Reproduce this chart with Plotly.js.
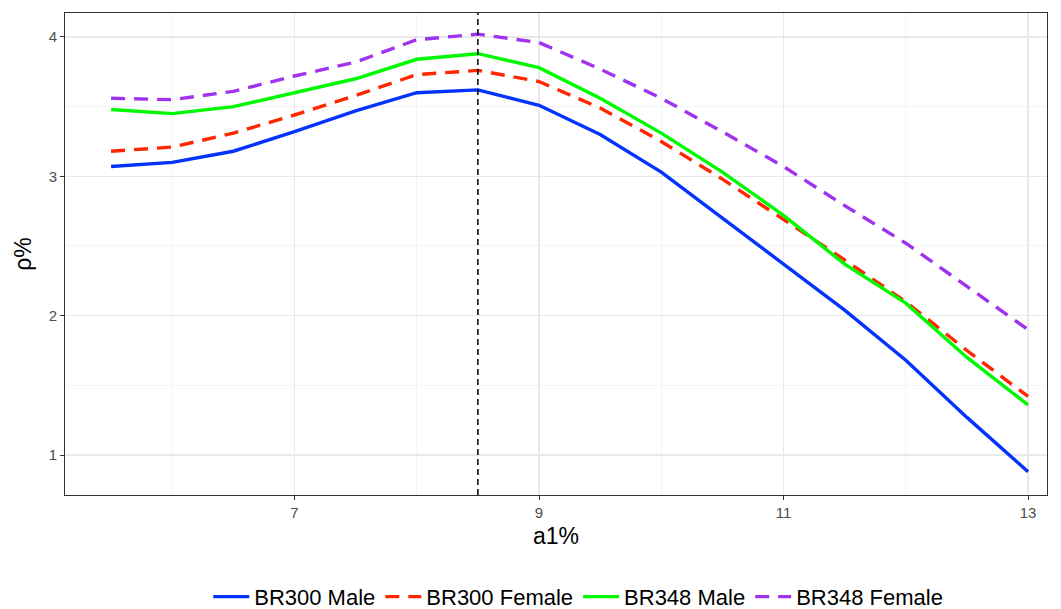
<!DOCTYPE html>
<html>
<head>
<meta charset="utf-8">
<script src="https://cdn.plot.ly/plotly-3.0.1.min.js"></script>
<style>html,body{margin:0;padding:0;background:#fff;}#chart{width:1061px;height:609px;}</style>
</head>
<body>
<div id="chart"></div>
<script>
const a1 = [5.5, 6, 6.5, 7, 7.5, 8, 8.5, 9, 9.5, 10, 10.5, 11, 11.5, 12, 12.5, 13];
const br300Male   = [3.07, 3.10, 3.18, 3.32, 3.47, 3.60, 3.62, 3.51, 3.30, 3.03, 2.70, 2.37, 2.04, 1.68, 1.27, 0.88];
const br300Female = [3.18, 3.21, 3.31, 3.44, 3.58, 3.73, 3.76, 3.68, 3.49, 3.25, 2.98, 2.69, 2.40, 2.10, 1.75, 1.42];
const br348Male   = [3.48, 3.45, 3.50, 3.60, 3.70, 3.84, 3.88, 3.78, 3.56, 3.31, 3.03, 2.72, 2.37, 2.09, 1.70, 1.36];
const br348Female = [3.56, 3.55, 3.61, 3.72, 3.82, 3.98, 4.02, 3.96, 3.77, 3.56, 3.32, 3.07, 2.79, 2.52, 2.21, 1.90];
const seriesNames = ["BR300 Male", "BR300 Female", "BR348 Male", "BR348 Female"];
const markerX = 8.5;
const xTickVals = [7, 9, 11, 13];
const yTickVals = [1, 2, 3, 4];

const font = "Liberation Sans, Arial, Helvetica, sans-serif";
const traces = [
  {y: br300Male,   color: "#0433ff", dash: "solid"},
  {y: br300Female, color: "#ff2600", dash: "14px,9px"},
  {y: br348Male,   color: "#00f900", dash: "solid"},
  {y: br348Female, color: "#a033ee", dash: "14px,9px"}
].map((s, i) => ({
  type: "scatter", mode: "lines", x: a1, y: s.y, name: seriesNames[i],
  line: {color: s.color, width: 3.4, dash: s.dash}
}));

const layout = {
  width: 1061, height: 609,
  margin: {l: 65, r: 14, t: 13, b: 114},
  paper_bgcolor: "#fff", plot_bgcolor: "#fff",
  font: {family: font, color: "#000"},
  showlegend: true,
  legend: {orientation: "h", xref: "container", yref: "container",
           x: 0.545, xanchor: "center", y: 0.02, yanchor: "middle",
           font: {size: 22, family: font, color: "#000"}, itemwidth: 36, tracegroupgap: 0},
  xaxis: {
    range: [5.123, 13.155], tickvals: xTickVals, ticktext: xTickVals.map(String),
    ticks: "outside", ticklen: 4, tickcolor: "#333", tickwidth: 1,
    tickfont: {size: 15, color: "#4d4d4d", family: font},
    showgrid: true, gridcolor: "#e8e8e8", gridwidth: 1.2,
    minor: {tickvals: [6, 8, 10, 12], showgrid: true, gridcolor: "#f4f4f4", gridwidth: 1},
    zeroline: false, showline: true, mirror: true, linecolor: "#333", linewidth: 1,
    automargin: false,
    title: {text: "a1%", font: {size: 23, family: font, color: "#000"}, standoff: 7}
  },
  yaxis: {
    range: [0.713, 4.172], tickvals: yTickVals, ticktext: yTickVals.map(String),
    ticks: "outside", ticklen: 4, tickcolor: "#333", tickwidth: 1,
    tickfont: {size: 15, color: "#4d4d4d", family: font},
    showgrid: true, gridcolor: "#e8e8e8", gridwidth: 1.2,
    minor: {tickvals: [1.5, 2.5, 3.5], showgrid: true, gridcolor: "#f4f4f4", gridwidth: 1},
    zeroline: false, showline: true, mirror: true, linecolor: "#333", linewidth: 1,
    automargin: false,
    title: {text: "ρ%", font: {size: 23, family: font, color: "#000"}, standoff: 10}
  },
  shapes: [{type: "line", xref: "x", yref: "paper", x0: markerX, x1: markerX, y0: 0, y1: 1,
            line: {color: "#000", width: 1.5, dash: "6px,4px"}}]
};

Plotly.newPlot("chart", traces, layout, {displayModeBar: false, staticPlot: true});
</script>
</body>
</html>
